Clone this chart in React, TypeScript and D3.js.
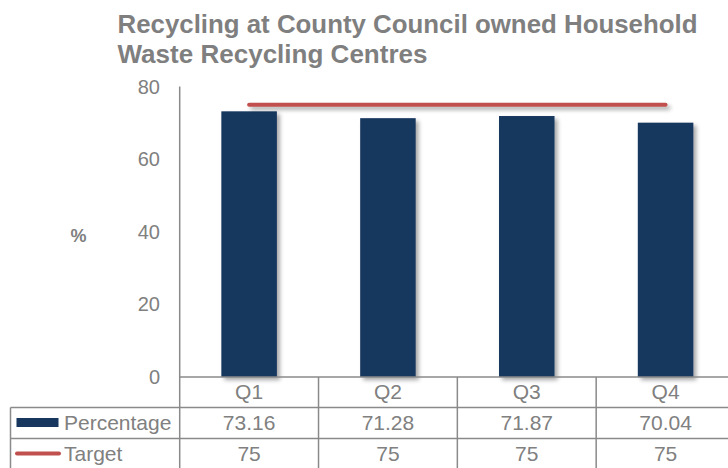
import React from "react";
import * as d3 from "d3";

const categories = ["Q1", "Q2", "Q3", "Q4"];
const percentage = [73.16, 71.28, 71.87, 70.04];
const target = [75, 75, 75, 75];
const percentageLabels = ["73.16", "71.28", "71.87", "70.04"];
const targetLabels = ["75", "75", "75", "75"];
const yTicks = [0, 20, 40, 60, 80];
const titleLines = ["Recycling at County Council owned Household", "Waste Recycling Centres"];

const W = 728;
const H = 468;
const FONT = "'Liberation Sans', Arial, sans-serif";

export default function App() {
  const plotLeft = 179.7;
  const plotRight = 735;
  const y0 = 377;
  const yTop = 86.5;

  const x = d3.scaleBand<string>().domain(categories).range([plotLeft, plotRight]).paddingInner(0).paddingOuter(0);
  const y = d3.scaleLinear().domain([0, 80]).range([y0, yTop]);
  const bw = x.bandwidth() * 0.4;

  const line = d3
    .line<number>()
    .x((_, i) => (x(categories[i]) as number) + x.bandwidth() / 2)
    .y((d) => y(d));

  const rowTop = [377, 407.5, 438.5];
  const rowBottom = 469;
  const tableLeft = 10.5;
  const border = "#8a8a8a";
  const textColor = "#808080";

  return (
    <svg width={W} height={H} style={{ position: "absolute", left: 0, top: 0, background: "#fff" }}>
      <defs>
        <filter id="shadow" x="-20%" y="-20%" width="150%" height="150%">
          <feDropShadow dx="3" dy="3" stdDeviation="2" floodColor="#000" floodOpacity="0.35" />
        </filter>
        <filter id="lineShadow" filterUnits="userSpaceOnUse" x={0} y={0} width={W} height={H}>
          <feDropShadow dx="3" dy="3" stdDeviation="2" floodColor="#000" floodOpacity="0.35" />
        </filter>
      </defs>
      <rect x={0} y={0} width={W} height={H} fill="#fff" />
      <text x={117.5} y={33} fontFamily={FONT} fontWeight="bold" fontSize={25} fill="#7f7f7f" textLength={580} lengthAdjust="spacingAndGlyphs">
        {titleLines[0]}
      </text>
      <text x={117.5} y={62.5} fontFamily={FONT} fontWeight="bold" fontSize={25} fill="#7f7f7f" textLength={310} lengthAdjust="spacingAndGlyphs">
        {titleLines[1]}
      </text>
      <text x={78.5} y={242} textAnchor="middle" fontFamily={FONT} fontWeight="bold" fontSize={18} fill="#7f7f7f">
        %
      </text>
      {yTicks.map((t) => (
        <text key={t} x={160} y={y(t)} dy="0.35em" textAnchor="end" fontFamily={FONT} fontSize={20} fill={textColor}>
          {t}
        </text>
      ))}
      {percentage.map((v, i) => {
        const cx = (x(categories[i]) as number) + x.bandwidth() / 2;
        return (
          <rect key={i} x={cx - bw / 2} y={y(v)} width={bw} height={y0 - y(v)} fill="#17375e" filter="url(#shadow)" />
        );
      })}
      <path d={line(target) || ""} fill="none" stroke="#c0504d" strokeWidth={4} strokeLinecap="round" filter="url(#lineShadow)" />
      {/* axis line */}
      <line x1={plotLeft} x2={plotLeft} y1={yTop} y2={y0} stroke={border} strokeWidth={1.5} />
      {/* table */}
      <line x1={plotLeft} x2={W} y1={rowTop[0]} y2={rowTop[0]} stroke={border} strokeWidth={1.5} />
      <line x1={tableLeft} x2={W} y1={rowTop[1]} y2={rowTop[1]} stroke={border} strokeWidth={1.5} />
      <line x1={tableLeft} x2={W} y1={rowTop[2]} y2={rowTop[2]} stroke={border} strokeWidth={1.5} />
      <line x1={tableLeft} x2={tableLeft} y1={rowTop[1]} y2={rowBottom} stroke={border} strokeWidth={1.5} />
      {categories.map((c) => (
        <line key={c} x1={x(c) as number} x2={x(c) as number} y1={rowTop[0]} y2={rowBottom} stroke={border} strokeWidth={1.5} />
      ))}
      {categories.map((c, i) => {
        const cx = (x(c) as number) + x.bandwidth() / 2;
        return (
          <g key={c} fontFamily={FONT} fontSize={21} fill={textColor} textAnchor="middle">
            <text x={cx} y={399}>{c}</text>
            <text x={cx} y={429.5}>{percentageLabels[i]}</text>
            <text x={cx} y={460.7}>{targetLabels[i]}</text>
          </g>
        );
      })}
      <rect x={16.5} y={418} width={42} height={9} fill="#17375e" />
      <line x1={17} x2={59} y1={453.5} y2={453.5} stroke="#c0504d" strokeWidth={4} strokeLinecap="round" />
      <text x={64} y={429.5} fontFamily={FONT} fontSize={21} fill={textColor}>Percentage</text>
      <text x={64} y={460.7} fontFamily={FONT} fontSize={21} fill={textColor}>Target</text>
    </svg>
  );
}
